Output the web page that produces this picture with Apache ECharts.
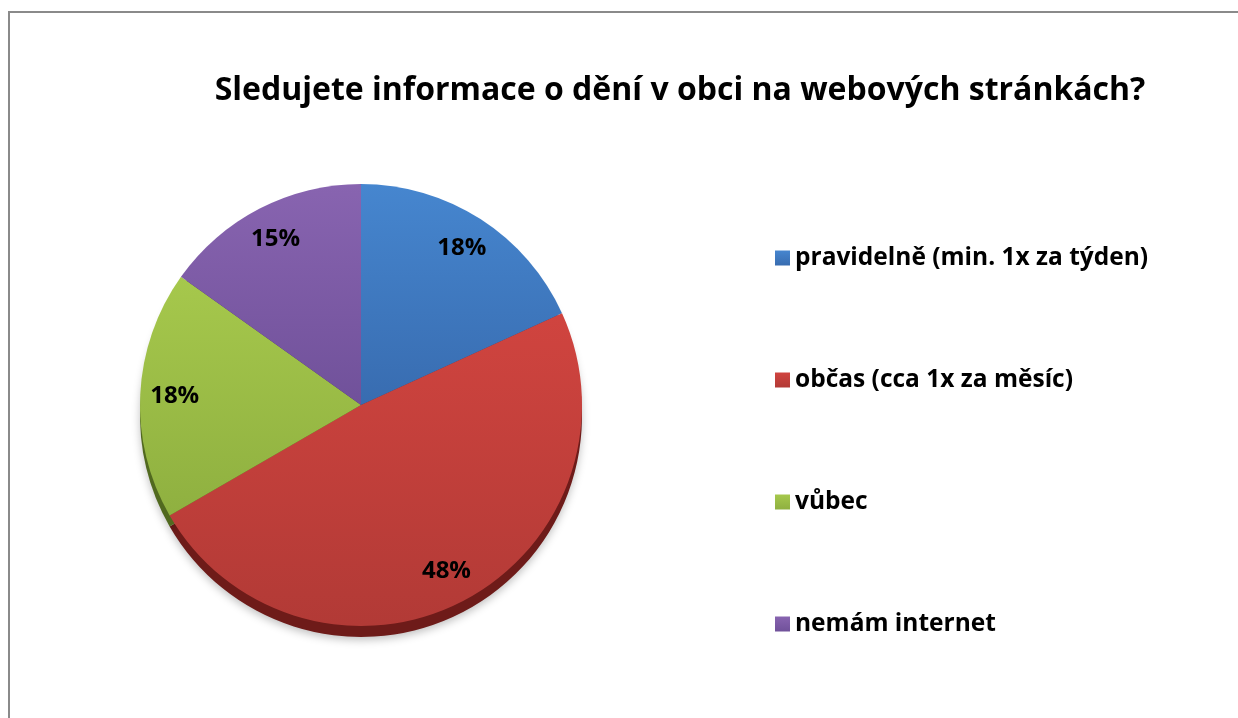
<!DOCTYPE html>
<html>
<head>
<meta charset="utf-8">
<script src="https://cdn.jsdelivr.net/npm/echarts@6/dist/echarts.min.js"></script>
<style>
  html, body { margin: 0; padding: 0; background: #fff; }
  #chart { width: 1238px; height: 718px; }
</style>
</head>
<body>
<div id="chart"></div>
<script>
// data
const categories = ['pravidelně (min. 1x za týden)', 'občas (cca 1x za měsíc)', 'vůbec', 'nemám internet']
const percents = [18, 48, 18, 15]

// colours: top face (light/dark for gradient) and the darker side edge
const faceLight = ['#4686cf', '#d0443f', '#a6c84c', '#8864b0']
const faceDark = ['#386cb0', '#b23a36', '#8fb040', '#70519a']
const edgeColors = ['#24457a', '#6e1b19', '#51691f', '#45305f']

const font = '"Open Sans", sans-serif'
const cx = 361
const cy = 405
const r = 221

const grad = (i) => new echarts.graphic.LinearGradient(0, 0, 0, 1, [
  { offset: 0, color: faceLight[i] },
  { offset: 1, color: faceDark[i] }
])

const chart = echarts.init(document.getElementById('chart'))

chart.setOption({
  animation: false,
  title: {
    text: 'Sledujete informace o dění v obci na webových stránkách?',
    left: 675,
    top: 70,
    textAlign: 'center',
    textStyle: { fontFamily: font, fontWeight: 'bold', fontSize: 32, color: '#000' }
  },
  legend: {
    orient: 'vertical',
    left: 770,
    top: 240,
    itemWidth: 15,
    itemHeight: 15,
    itemGap: 96,
    itemTextGap: 7,
    icon: 'rect',
    data: categories,
    textStyle: { fontFamily: font, fontWeight: 'bold', fontSize: 24.5, color: '#000', lineHeight: 26 },
    selectedMode: false
  },
  graphic: [{
    type: 'rect',
    silent: true,
    z: 0,
    shape: { x: 9, y: 12, width: 1260, height: 740 },
    style: { fill: 'none', stroke: '#8a8a8a', lineWidth: 2 }
  }],
  series: [
    {
      // top face
      name: 'face',
      type: 'pie',
      z: 3,
      center: [cx, cy],
      radius: [0, r],
      startAngle: 90,
      clockwise: true,
      silent: true,
      label: { show: false },
      labelLine: { show: false },
      itemStyle: { borderWidth: 0 },
      data: categories.map((name, i) => ({
        name, value: percents[i],
        itemStyle: { color: grad(i) }
      }))
    },
    {
      // side edge (3D look)
      name: 'edge',
      type: 'pie',
      z: 1,
      center: [cx, cy + 11],
      radius: [0, r],
      startAngle: 90,
      clockwise: true,
      silent: true,
      label: { show: false },
      labelLine: { show: false },
      itemStyle: { borderWidth: 0, shadowBlur: 8, shadowColor: 'rgba(0,0,0,0.25)', shadowOffsetY: 3 },
      data: categories.map((name, i) => ({
        name: name + ' ', value: percents[i],
        itemStyle: { color: edgeColors[i] }
      }))
    },
    {
      // labels only
      name: 'labels',
      type: 'pie',
      z: 4,
      center: [cx, cy],
      radius: [146, r],
      startAngle: 90,
      clockwise: true,
      silent: true,
      itemStyle: { color: 'rgba(0,0,0,0)' },
      label: {
        show: true,
        position: 'inside',
        formatter: (p) => p.value + '%',
        fontFamily: font,
        fontWeight: 'bold',
        fontSize: 24,
        color: '#000'
      },
      labelLine: { show: false },
      data: categories.map((name, i) => ({ name: name + '  ', value: percents[i] }))
    }
  ]
})
</script>
</body>
</html>
